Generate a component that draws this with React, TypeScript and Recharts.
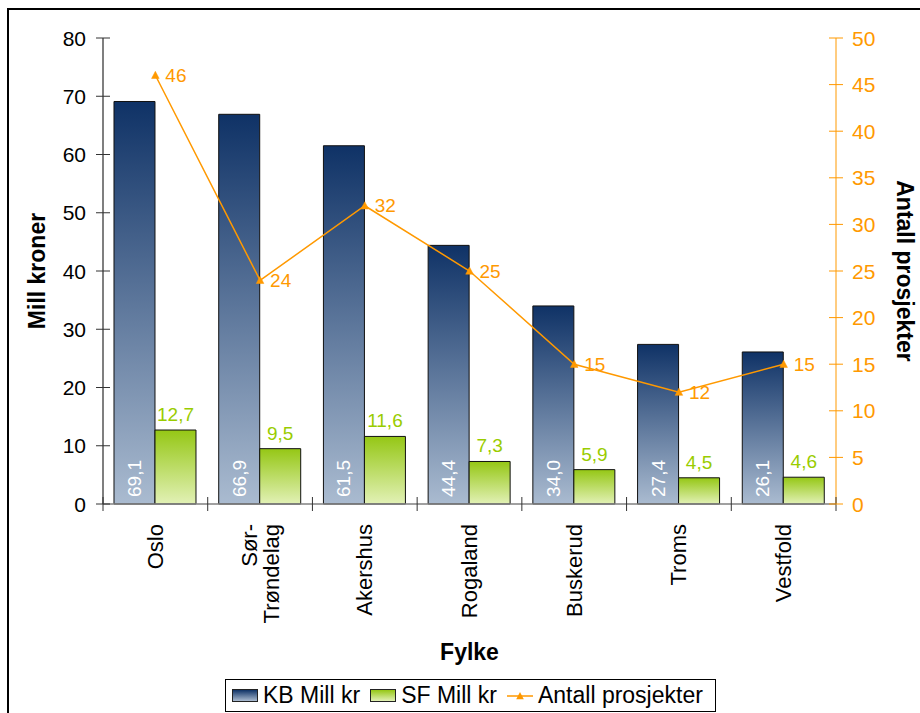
import React from 'react';
import { ComposedChart, Bar, Line, XAxis, YAxis, LabelList } from 'recharts';

const categories = ['Oslo', 'Sør-Trøndelag', 'Akershus', 'Rogaland', 'Buskerud', 'Troms', 'Vestfold'];
const kbValues = [69.1, 66.9, 61.5, 44.4, 34.0, 27.4, 26.1];
const sfValues = [12.7, 9.5, 11.6, 7.3, 5.9, 4.5, 4.6];
const projectCounts = [46, 24, 32, 25, 15, 12, 15];
const leftTicks = [0, 10, 20, 30, 40, 50, 60, 70, 80];
const rightTicks = [0, 5, 10, 15, 20, 25, 30, 35, 40, 45, 50];
const seriesNames = ['KB Mill kr', 'SF Mill kr', 'Antall prosjekter'];
const xTitle = 'Fylke';
const leftTitle = 'Mill kroner';
const rightTitle = 'Antall prosjekter';

const data = categories.map((name, i) => ({
  name,
  kb: kbValues[i],
  sf: sfValues[i],
  count: projectCounts[i],
}));

const FONT = '"Liberation Sans", Arial, sans-serif';
const ORANGE = '#ff9900';
const GREEN = '#99cc00';
const fmt = (v: number) => v.toFixed(1).replace('.', ',');

const splitLabel = (s: string) => {
  const i = s.indexOf('-');
  return i >= 0 ? [s.slice(0, i + 1), s.slice(i + 1)] : [s];
};

const CatTick = (props: any) => {
  const { x, y, payload, index } = props;
  const axisY = y - 8;
  const half = payload && payload.offset ? payload.offset : 52.36;
  const lines = splitLabel(String(payload.value));
  const lh = 22;
  const startX = x - ((lines.length - 1) * lh) / 2;
  return (
    <g>
      {index === 0 && (
        <line x1={x - half} x2={x - half} y1={axisY - 7} y2={axisY + 7} stroke="#333" strokeWidth={1} />
      )}
      <line x1={x + half} x2={x + half} y1={axisY - 7} y2={axisY + 7} stroke="#333" strokeWidth={1} />
      {lines.map((ln, k) => (
        <text
          key={k}
          x={0}
          y={0}
          transform={`translate(${startX + k * lh}, ${axisY + 20}) rotate(-90)`}
          textAnchor="end"
          dominantBaseline="central"
          fontSize={22}
          fontFamily={FONT}
          fill="#000"
        >
          {ln}
        </text>
      ))}
    </g>
  );
};

const LeftTick = (props: any) => {
  const { x, y, payload } = props;
  const axisX = x + 7 + 10;
  return (
    <g>
      <line x1={axisX - 7} x2={axisX + 7} y1={y} y2={y} stroke="#333" strokeWidth={1} />
      <text x={axisX - 17} y={y} textAnchor="end" dominantBaseline="central" fontSize={21} fontFamily={FONT} fill="#000">
        {payload.value}
      </text>
    </g>
  );
};

const RightTick = (props: any) => {
  const { x, y, payload } = props;
  const axisX = x - 7 - 10;
  return (
    <g>
      <line x1={axisX - 7} x2={axisX + 7} y1={y} y2={y} stroke={ORANGE} strokeWidth={1} />
      <text x={axisX + 16} y={y} textAnchor="start" dominantBaseline="central" fontSize={21} fontFamily={FONT} fill={ORANGE}>
        {payload.value}
      </text>
    </g>
  );
};

const TriDot = (props: any) => {
  const { cx, cy } = props;
  if (cx == null || cy == null) return null;
  return <path d={`M${cx},${cy - 4} L${cx + 3.8},${cy + 3.2} L${cx - 3.8},${cy + 3.2} Z`} fill={ORANGE} stroke={ORANGE} strokeWidth={0.5} />;
};

const KbLabel = (props: any) => {
  const { x, y, width, height, value } = props;
  const cx = x + width / 2;
  const by = y + height - 7;
  return (
    <text
      x={0}
      y={0}
      transform={`translate(${cx}, ${by}) rotate(-90)`}
      textAnchor="start"
      dominantBaseline="central"
      fontSize={19}
      fontFamily={FONT}
      fill="#ffffff"
    >
      {fmt(value)}
    </text>
  );
};

const SfLabel = (props: any) => {
  const { x, y, width, value } = props;
  return (
    <text x={x + width / 2} y={y - 9} textAnchor="middle" fontSize={19} fontFamily={FONT} fill={GREEN}>
      {fmt(value)}
    </text>
  );
};

const CountLabel = (props: any) => {
  const { x, y, value } = props;
  return (
    <text x={x + 10} y={y} textAnchor="start" dominantBaseline="central" fontSize={19} fontFamily={FONT} fill={ORANGE}>
      {value}
    </text>
  );
};

const LeftTitle = (props: any) => {
  const vb = props.viewBox || { x: 0, y: 38, width: 103, height: 466 };
  const cx = vb.x + 37;
  const cy = vb.y + vb.height / 2;
  return (
    <text x={0} y={0} transform={`translate(${cx}, ${cy}) rotate(-90)`} textAnchor="middle" dominantBaseline="central" fontSize={23} fontWeight="bold" fontFamily={FONT} fill="#000">
      {leftTitle}
    </text>
  );
};

const RightTitle = (props: any) => {
  const vb = props.viewBox || { x: 836, y: 38, width: 84, height: 466 };
  const cx = vb.x + 69;
  const cy = vb.y + vb.height / 2;
  return (
    <text x={0} y={0} transform={`translate(${cx}, ${cy}) rotate(90)`} textAnchor="middle" dominantBaseline="central" fontSize={23} fontWeight="bold" fontFamily={FONT} fill="#000">
      {rightTitle}
    </text>
  );
};

const XTitle = (props: any) => {
  const vb = props.viewBox || { x: 103, y: 504, width: 733, height: 209 };
  return (
    <text x={vb.x + vb.width / 2} y={vb.y + 148} textAnchor="middle" dominantBaseline="central" fontSize={23} fontWeight="bold" fontFamily={FONT} fill="#000">
      {xTitle}
    </text>
  );
};

const kbCss = 'linear-gradient(to bottom, #0f3266, #aabbd0)';
const sfCss = 'linear-gradient(to bottom, #95c715, #e2f1b6)';

export default function App() {
  return (
    <div style={{ position: 'absolute', left: 0, top: 0, width: 920, height: 713, background: '#fff', overflow: 'hidden' }}>
      <div
        style={{
          position: 'absolute',
          left: 7,
          top: 8,
          width: 913,
          height: 705,
          borderLeft: '2px solid #000',
          borderTop: '2px solid #000',
          boxSizing: 'border-box',
        }}
      />
      <div style={{ position: 'absolute', left: 0, top: 0 }}>
        <ComposedChart
          width={920}
          height={713}
          data={data}
          margin={{ top: 38, right: 0, bottom: 0, left: 0 }}
          barCategoryGap="10.5%"
          barGap={0}
        >
          <defs>
            <linearGradient id="kbGrad" x1="0" y1="0" x2="0" y2="1">
              <stop offset="0%" stopColor="#0f3266" />
              <stop offset="100%" stopColor="#aabbd0" />
            </linearGradient>
            <linearGradient id="sfGrad" x1="0" y1="0" x2="0" y2="1">
              <stop offset="0%" stopColor="#95c715" />
              <stop offset="100%" stopColor="#e2f1b6" />
            </linearGradient>
          </defs>
          <XAxis
            dataKey="name"
            height={209}
            interval={0}
            tickSize={6}
            tickMargin={2}
            tickLine={false}
            axisLine={{ stroke: '#808080', strokeWidth: 1.5 }}
            tick={<CatTick />}
            label={<XTitle />}
          />
          <YAxis
            yAxisId="left"
            domain={[0, 80]}
            ticks={leftTicks}
            width={103}
            tickSize={7}
            tickMargin={10}
            tickLine={false}
            axisLine={{ stroke: '#555', strokeWidth: 1.5 }}
            tick={<LeftTick />}
            interval={0}
            label={<LeftTitle />}
          />
          <YAxis
            yAxisId="right"
            orientation="right"
            domain={[0, 50]}
            ticks={rightTicks}
            width={84}
            tickSize={7}
            tickMargin={10}
            tickLine={false}
            axisLine={{ stroke: ORANGE, strokeWidth: 1 }}
            tick={<RightTick />}
            interval={0}
            label={<RightTitle />}
          />
          <Bar yAxisId="left" dataKey="kb" name={seriesNames[0]} fill="url(#kbGrad)" stroke="#111" strokeWidth={1} isAnimationActive={false}>
            <LabelList dataKey="kb" content={<KbLabel />} />
          </Bar>
          <Bar yAxisId="left" dataKey="sf" name={seriesNames[1]} fill="url(#sfGrad)" stroke="#111" strokeWidth={1} isAnimationActive={false}>
            <LabelList dataKey="sf" content={<SfLabel />} />
          </Bar>
          <Line
            yAxisId="right"
            dataKey="count"
            name={seriesNames[2]}
            stroke={ORANGE}
            strokeWidth={1.5}
            dot={<TriDot />}
            activeDot={false}
            isAnimationActive={false}
          >
            <LabelList dataKey="count" content={<CountLabel />} />
          </Line>
        </ComposedChart>
      </div>
      <div
        style={{
          position: 'absolute',
          left: 225,
          top: 679,
          width: 491,
          height: 33,
          border: '1px solid #000',
          boxSizing: 'border-box',
          display: 'flex',
          alignItems: 'center',
          paddingLeft: 6,
          fontFamily: FONT,
          fontSize: 23,
          color: '#000',
          whiteSpace: 'nowrap',
        }}
      >
        <span style={{ display: 'inline-block', width: 24, height: 11, background: kbCss, border: '1px solid #222', marginRight: 5 }} />
        <span style={{ marginRight: 10 }}>{seriesNames[0]}</span>
        <span style={{ display: 'inline-block', width: 24, height: 11, background: sfCss, border: '1px solid #222', marginRight: 5 }} />
        <span style={{ marginRight: 10 }}>{seriesNames[1]}</span>
        <svg width={26} height={14} style={{ marginRight: 5 }}>
          <line x1={0} x2={26} y1={7} y2={7} stroke={ORANGE} strokeWidth={1.5} />
          <path d="M13,3 L16.8,10.2 L9.2,10.2 Z" fill={ORANGE} />
        </svg>
        <span>{seriesNames[2]}</span>
      </div>
    </div>
  );
}
